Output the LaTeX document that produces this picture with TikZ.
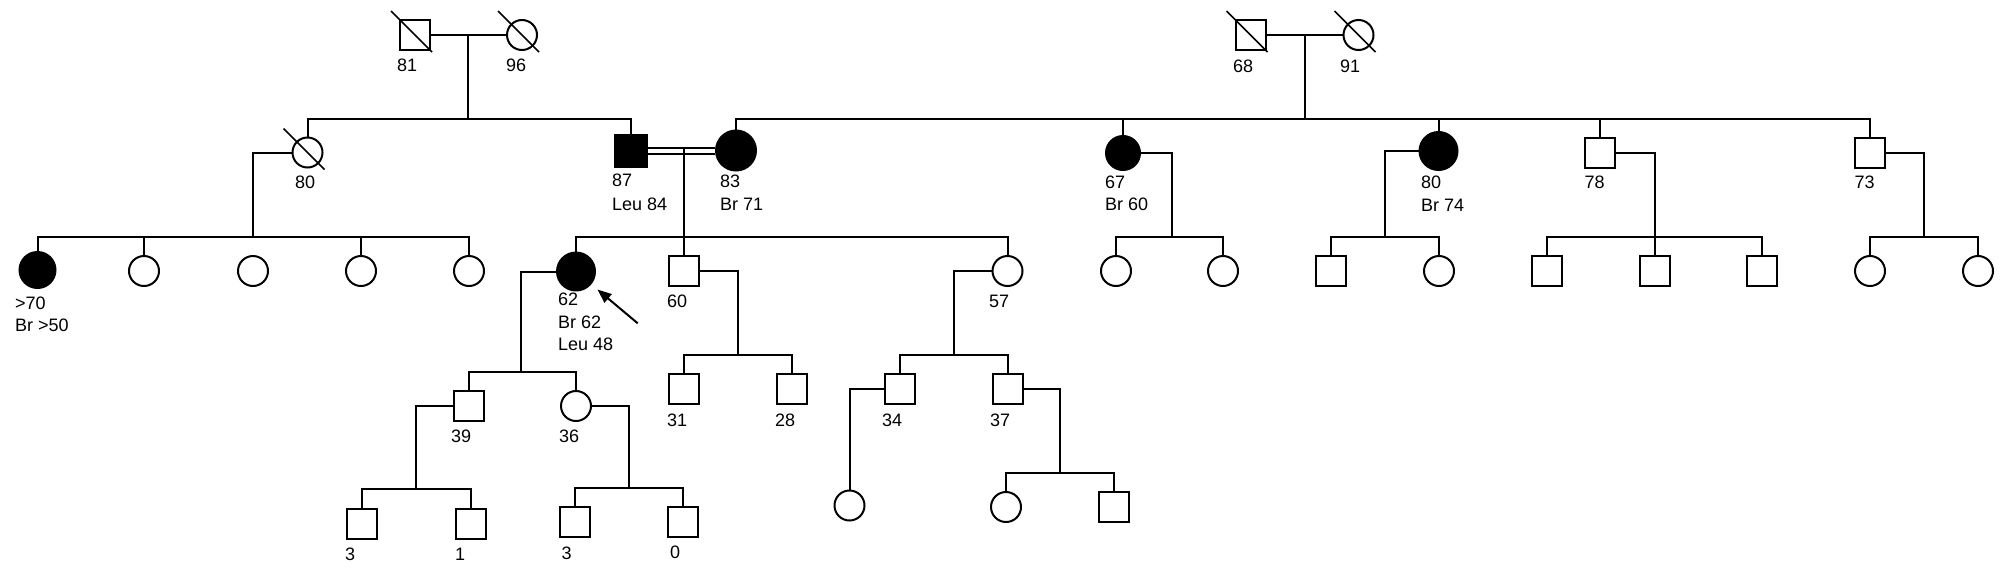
\documentclass[tikz,border=0pt]{standalone}
\usepackage{fontspec}
\setmainfont{Liberation Sans}
\usetikzlibrary{arrows.meta}
\tikzset{
  ped/.style={line width=2pt, draw=black},
  male/.style={ped, rectangle, minimum size=30pt, inner sep=0pt, fill=white},
  female/.style={ped, circle, minimum size=30pt, inner sep=0pt, fill=white},
  affm/.style={ped, rectangle, minimum size=32pt, inner sep=0pt, fill=black},
  afff/.style={ped, circle, minimum size=38pt, inner sep=0pt, fill=black},
  lab/.style={anchor=base west, inner sep=0pt, font=\fontsize{18}{22}\selectfont},
  link/.style={line width=2pt, draw=black},
  slash/.style={line width=1.6pt, draw=black}
}
\newcommand\deceased[1]{\draw[slash] ([shift={(-24,-24)}]#1.center) -- ([shift={(17,17)}]#1.center);}
\newcommand\pedlab[4]{\node[lab] (#1) at (#2,#3) {#4};}
\begin{document}
\begin{tikzpicture}[x=1pt,y=-1pt]
\useasboundingbox (0,0) rectangle (2008,576);
% Generation I
\node[male] (I1) at (415,35) {};
\node[female] (I2) at (522,35) {};
\node[male] (I3) at (1250.5,35) {};
\node[female] (I4) at (1358.5,35) {};
% Generation II
\node[female] (II1) at (307.5,152.5) {};
\node[affm] (II2) at (631,150.5) {};
\node[afff, minimum size=40pt] (II3) at (736,150.5) {};
\node[afff, minimum size=34pt] (II4) at (1123,153) {};
\node[afff] (II5) at (1438.5,151) {};
\node[male] (II6) at (1600,153) {};
\node[male] (II7) at (1870,153) {};
% Generation III
\node[afff, minimum size=36pt] (III1) at (37.5,270) {};
\node[female] (III2) at (144,271) {};
\node[female] (III3) at (253,271) {};
\node[female] (III4) at (361,271) {};
\node[female] (III5) at (469,271) {};
\node[afff] (III6) at (576,271.5) {};
\node[male] (III7) at (684,270.5) {};
\node[female] (III8) at (1007.5,271) {};
\node[female] (III9) at (1116,271) {};
\node[female] (III10) at (1223,271) {};
\node[male] (III11) at (1331,271) {};
\node[female] (III12) at (1439,271) {};
\node[male] (III13) at (1546.5,271) {};
\node[male] (III14) at (1655,271) {};
\node[male] (III15) at (1762,271) {};
\node[female] (III16) at (1870,271) {};
\node[female] (III17) at (1978,271) {};
% Generation IV
\node[male] (IV1) at (469,406) {};
\node[female] (IV2) at (576,406) {};
\node[male] (IV3) at (684,389) {};
\node[male] (IV4) at (792,389) {};
\node[male] (IV5) at (900,389) {};
\node[male] (IV6) at (1008,389) {};
% Generation V
\node[male] (V1) at (362,524) {};
\node[male] (V2) at (470.5,524) {};
\node[male] (V3) at (575,522) {};
\node[male] (V4) at (682.5,522) {};
\node[female] (V5) at (849.5,505.5) {};
\node[female] (V6) at (1006,507) {};
\node[male] (V7) at (1113.5,507) {};
% deceased marks
\deceased{I1}\deceased{I2}\deceased{I3}\deceased{I4}\deceased{II1}
% junction coordinates
\coordinate (mA) at (468,35);   \coordinate (sA) at (468,119);
\coordinate (mB) at (1305,35);  \coordinate (sB) at (1305,119);
\coordinate (sC) at (253,237);
\coordinate (mD) at (684,147);  \coordinate (sD) at (684,237);
\coordinate (sE) at (1172,237);
\coordinate (sF) at (1385,237);
\coordinate (sG) at (1654.5,237);
\coordinate (sH) at (1924,237);
\coordinate (sI) at (521,372);
\coordinate (sJ) at (738,355);
\coordinate (sK) at (953.5,355);
\coordinate (sL) at (416,489);
\coordinate (sM) at (628.5,488);
\coordinate (sO) at (1060,473);
% couples
\draw[link] (I1) -- (I2);
\draw[link] (I3) -- (I4);
\draw[line width=2pt, double=white, double distance=4pt] (II2.east) -- (II3.west |- II2.east);
% family A
\draw[link] (mA) -- (sA);
\draw[link] (II1.north) |- (sA) -| (II2.north);
% family B
\draw[link] (mB) -- (sB);
\draw[link] (II3.north) |- (sB) -| (II7.north);
\foreach \k in {II4,II5,II6} \draw[link] (\k.north) -- (\k.north |- sB);
% family C
\draw[link] (II1.west) -| (sC);
\draw[link] (III1.north) |- (sC) -| (III5.north);
\foreach \k in {III2,III4} \draw[link] (\k.north) -- (\k.north |- sC);
% family D
\draw[link] (mD) -- (sD);
\draw[link] (III6.north) |- (sD) -| (III8.north);
\draw[link] (III7.north) -- (III7.north |- sD);
% family E
\draw[link] (II4.east) -| (sE);
\draw[link] (III9.north) |- (sE) -| (III10.north);
% family F
\draw[link] (II5.west) -| (sF);
\draw[link] (III11.north) |- (sF) -| (III12.north);
% family G
\draw[link] (II6.east) -| (sG);
\draw[link] (III13.north) |- (sG) -| (III15.north);
\draw[link] (III14.north) -- (III14.north |- sG);
% family H
\draw[link] (II7.east) -| (sH);
\draw[link] (III16.north) |- (sH) -| (III17.north);
% family I
\draw[link] (III6.west) -| (sI);
\draw[link] (IV1.north) |- (sI) -| (IV2.north);
% family J
\draw[link] (III7.east) -| (sJ);
\draw[link] (IV3.north) |- (sJ) -| (IV4.north);
% family K
\draw[link] (III8.west) -| (sK);
\draw[link] (IV5.north) |- (sK) -| (IV6.north);
% family L
\draw[link] (IV1.west) -| (sL);
\draw[link] (V1.north) |- (sL) -| (V2.north);
% family M
\draw[link] (IV2.east) -| (sM);
\draw[link] (V3.north) |- (sM) -| (V4.north);
% family N
\draw[link] (IV5.west) -| (V5.north);
% family O
\draw[link] (IV6.east) -| (sO);
\draw[link] (V6.north) |- (sO) -| (V7.north);
% proband arrow
\coordinate (arrtail) at (637.7,323.3);
\draw[link, -{Triangle[length=14pt,width=11pt]}, shorten >=8pt] (arrtail) -- (III6);
% labels
\pedlab{tI1}{397}{71.5}{81}
\pedlab{tI2}{506}{71.5}{96}
\pedlab{tI3}{1233}{72}{68}
\pedlab{tI4}{1340}{72}{91}
\pedlab{tII1}{295}{188}{80}
\pedlab{tII2a}{612}{186.5}{87}
\pedlab{tII2b}{612}{210}{Leu 84}
\pedlab{tII3a}{720}{187}{83}
\pedlab{tII3b}{720}{210}{Br 71}
\pedlab{tII4a}{1105}{188.5}{67}
\pedlab{tII4b}{1105}{210}{Br 60}
\pedlab{tII5a}{1421}{188}{80}
\pedlab{tII5b}{1421}{211}{Br 74}
\pedlab{tII6}{1584.5}{188}{78}
\pedlab{tII7}{1854.5}{188}{73}
\pedlab{tIII1a}{15}{309}{>70}
\pedlab{tIII1b}{15}{331.5}{Br >50}
\pedlab{tIII6a}{558}{305}{62}
\pedlab{tIII6b}{558}{328}{Br 62}
\pedlab{tIII6c}{558}{350}{Leu 48}
\pedlab{tIII7}{667}{307}{60}
\pedlab{tIII8}{989}{307}{57}
\pedlab{tIV1}{451}{442}{39}
\pedlab{tIV2}{559}{442}{36}
\pedlab{tIV3}{667}{426.5}{31}
\pedlab{tIV4}{775}{426.5}{28}
\pedlab{tIV5}{882}{426.5}{34}
\pedlab{tIV6}{990}{426.5}{37}
\pedlab{tV1}{345}{560}{3}
\pedlab{tV2}{455}{560}{1}
\pedlab{tV3}{561.5}{559}{3}
\pedlab{tV4}{670}{558}{0}
\end{tikzpicture}
\end{document}
